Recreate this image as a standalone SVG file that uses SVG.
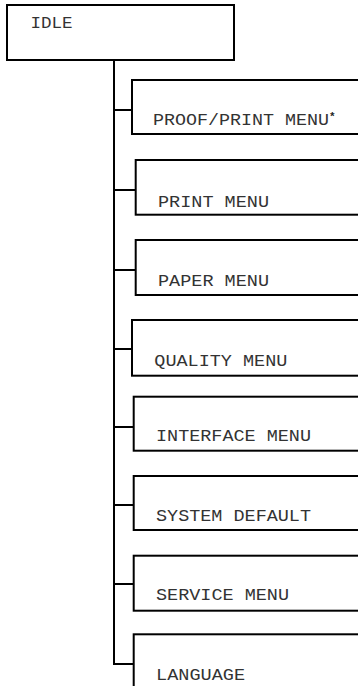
<svg xmlns="http://www.w3.org/2000/svg" width="358" height="686" viewBox="0 0 358 686">
<style>
.box{fill:#fff;stroke:#000;stroke-width:2}
.ln{stroke:#000;stroke-width:2;fill:none}
.t{font-family:"Liberation Mono","Courier New",monospace;font-size:16px;fill:#333}
.s{font-family:"Liberation Mono","Courier New",monospace;font-size:11px;font-weight:bold;fill:#222}
</style>
<rect width="358" height="686" fill="#fff"/>
<g id="connectors">
<line class="ln" x1="114" y1="60" x2="114" y2="665"/>
<line class="ln" x1="113" y1="110" x2="136" y2="110"/>
<line class="ln" x1="113" y1="190" x2="136" y2="190"/>
<line class="ln" x1="113" y1="270" x2="136" y2="270"/>
<line class="ln" x1="113" y1="349" x2="132" y2="349"/>
<line class="ln" x1="113" y1="427" x2="134" y2="427"/>
<line class="ln" x1="113" y1="505" x2="134" y2="505"/>
<line class="ln" x1="113" y1="584" x2="134" y2="584"/>
<line class="ln" x1="113" y1="664" x2="134" y2="664"/>
</g>
<g id="idle">
<rect class="box" x="7" y="5" width="227" height="55"/>
<text class="t" x="30.5" y="28.3" textLength="42" lengthAdjust="spacingAndGlyphs">IDLE</text>
</g>
<g id="proof">
<rect class="box" x="132" y="80" width="240" height="54"/>
<text class="t" x="153" y="125" textLength="176" lengthAdjust="spacingAndGlyphs">PROOF/PRINT MENU</text>
<text class="s" x="329" y="120">*</text>
</g>
<g id="print">
<rect class="box" x="135.7" y="160" width="240" height="54.7"/>
<text class="t" x="158" y="206.7" textLength="111" lengthAdjust="spacingAndGlyphs">PRINT MENU</text>
</g>
<g id="paper">
<rect class="box" x="135.7" y="240" width="240" height="55"/>
<text class="t" x="158" y="285.7" textLength="111" lengthAdjust="spacingAndGlyphs">PAPER MENU</text>
</g>
<g id="quality">
<rect class="box" x="132" y="320" width="240" height="55.7"/>
<text class="t" x="154.3" y="365.7" textLength="133" lengthAdjust="spacingAndGlyphs">QUALITY MENU</text>
</g>
<g id="interface">
<rect class="box" x="133.7" y="396.7" width="240" height="54"/>
<text class="t" x="156" y="441" textLength="155" lengthAdjust="spacingAndGlyphs">INTERFACE MENU</text>
</g>
<g id="system">
<rect class="box" x="133.7" y="476" width="240" height="54"/>
<text class="t" x="156" y="521" textLength="155" lengthAdjust="spacingAndGlyphs">SYSTEM DEFAULT</text>
</g>
<g id="service">
<rect class="box" x="133.7" y="555.7" width="240" height="55"/>
<text class="t" x="156" y="600" textLength="133" lengthAdjust="spacingAndGlyphs">SERVICE MENU</text>
</g>
<g id="language">
<rect class="box" x="133.7" y="634.3" width="240" height="70"/>
<text class="t" x="156" y="680" textLength="89" lengthAdjust="spacingAndGlyphs">LANGUAGE</text>
</g>
</svg>
